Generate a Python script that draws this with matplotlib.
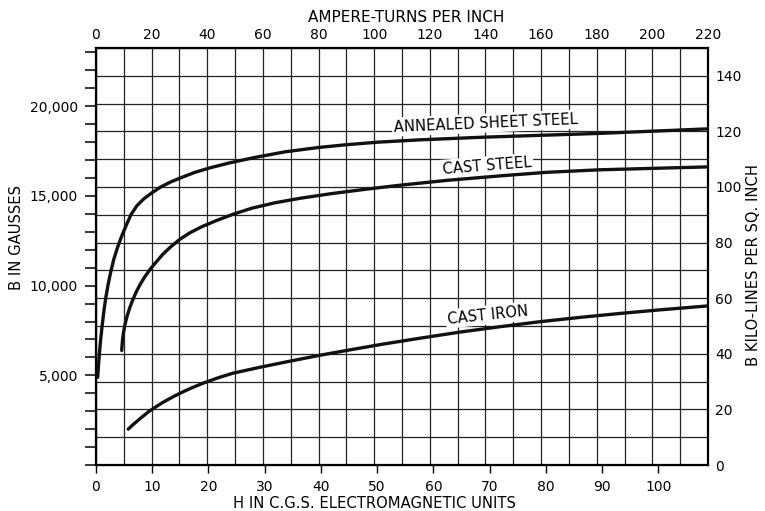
import matplotlib
matplotlib.use("Agg")
import matplotlib.pyplot as plt
from matplotlib.ticker import MultipleLocator, FixedLocator, FuncFormatter

# ---- data: H in c.g.s. units (oersted), B in gausses ----
annealed_H = [0.30, 0.44, 0.62, 0.85, 1.12, 1.42, 1.78, 2.19, 2.67, 3.20, 3.82, 4.53,
              5.34, 6.22, 7.29, 8.54, 9.96, 11.56, 13.34, 15.29, 17.61, 20.28, 23.83,
              28.28, 33.61, 39.48, 44.27, 50.14, 57.62, 68.29, 78.96, 89.63, 100.3, 108.7]
annealed_B = [4890, 5560, 6280, 7060, 7840, 8620, 9400, 10120, 10840, 11510, 12120, 12730,
              13340, 13960, 14460, 14850, 15180, 15510, 15790, 16040, 16320, 16570, 16850,
              17150, 17460, 17700, 17850, 18000, 18130, 18270, 18380, 18490, 18630, 18740]

caststeel_H = [4.57, 4.71, 4.89, 5.16, 5.51, 5.96, 6.49, 7.11, 7.83, 8.71, 9.60, 10.67,
               11.92, 13.34, 14.94, 16.72, 18.85, 21.34, 24.36, 27.74, 31.83, 36.28,
               41.62, 47.84, 54.06, 62.42, 71.85, 80.21, 89.63, 100.3, 108.7]
caststeel_B = [6390, 6950, 7390, 7840, 8280, 8730, 9170, 9620, 10060, 10510, 10900, 11310,
               11760, 12180, 12590, 12950, 13290, 13620, 13980, 14320, 14620, 14870,
               15120, 15370, 15600, 15870, 16120, 16320, 16460, 16550, 16620]

castiron_H = [5.74, 6.58, 7.52, 8.36, 9.30, 10.49, 11.68, 12.80, 14.05, 15.47, 17.02,
              19.03, 21.70, 24.37, 29.17, 34.50, 39.84, 45.17, 51.04, 57.62, 64.73,
              71.85, 78.96, 86.07, 93.19, 100.3, 108.8]
castiron_B = [2000, 2250, 2500, 2720, 2960, 3210, 3450, 3650, 3860, 4080, 4300,
              4560, 4860, 5120, 5450, 5790, 6120, 6420, 6740, 7070, 7410,
              7710, 7990, 8230, 8450, 8650, 8870]

curve_names = ["ANNEALED SHEET STEEL", "CAST STEEL", "CAST IRON"]

bottom_ticks = list(range(0, 101, 10))          # H, c.g.s. units
left_major = [5000, 10000, 15000, 20000]         # gausses

AT_PER_H = 2.0213      # ampere-turns per inch for one c.g.s. unit of H
GAUSS_PER_KL = 155.0   # gausses per kilo-line per square inch

plt.rcParams['font.family'] = ['DejaVu Sans']
W, H = 765, 511

fig = plt.figure(figsize=(7.65, 5.11), dpi=100)
ax = fig.add_axes([96 / W, 1 - 465 / H, (708 - 96) / W, (465 - 48) / H])

ax.set_xlim(0, 220)
ax.set_ylim(0, 150)

# top axis: ampere-turns per inch
ax.xaxis.tick_top()
ax.xaxis.set_major_locator(MultipleLocator(20))
ax.xaxis.set_minor_locator(MultipleLocator(10))
ax.tick_params(axis='x', which='both', length=0, pad=4, labelsize=10)

# right axis: kilo-lines per sq. inch
ax.yaxis.tick_right()
ax.yaxis.set_minor_locator(MultipleLocator(10))
ax.set_yticks(range(0, 141, 20))
ax.tick_params(axis='y', which='both', length=0, pad=5, labelsize=10)

ax.grid(which='both', color='#222222', lw=0.9)
ax.set_axisbelow(True)
for s in ax.spines.values():
    s.set_linewidth(1.6)

# bottom axis: H in c.g.s. units
secx = ax.secondary_xaxis('bottom', functions=(lambda a: a / AT_PER_H, lambda h: h * AT_PER_H))
secx.set_xticks(bottom_ticks)
secx.tick_params(length=6, width=1.0, pad=5, labelsize=10)

# left axis: B in gausses
secy = ax.secondary_yaxis('left', functions=(lambda k: k * GAUSS_PER_KL, lambda g: g / GAUSS_PER_KL))
secy.yaxis.set_major_locator(FixedLocator(left_major))
secy.yaxis.set_minor_locator(MultipleLocator(1000))
secy.yaxis.set_major_formatter(FuncFormatter(lambda v, p: f"{int(v):,}"))
secy.tick_params(which='both', length=8, width=1.1, pad=5, labelsize=10)

# axis titles
fig.text(406 / W, 1 - 17 / H, "AMPERE-TURNS PER INCH", fontsize=11, ha='center', va='center')
fig.text(374 / W, 1 - 503 / H, "H IN C.G.S. ELECTROMAGNETIC UNITS", fontsize=10.6,
         ha='center', va='center')
fig.text(17 / W, 1 - 238 / H, "B IN GAUSSES", fontsize=10.6, rotation=90,
         ha='center', va='center')
fig.text(754 / W, 1 - 265 / H, "B KILO-LINES PER SQ. INCH", fontsize=10.6, rotation=90,
         ha='center', va='center')

# curves
series = [(annealed_H, annealed_B), (caststeel_H, caststeel_B), (castiron_H, castiron_B)]
for hs, bs in series:
    ax.plot([h * AT_PER_H for h in hs], [b / GAUSS_PER_KL for b in bs],
            color='#111111', lw=2.4, solid_capstyle='round', solid_joinstyle='round',
            zorder=4)

label_pos = [(140.2, 123.0, 2.5), (140.5, 107.6, 4.5), (141.0, 54.0, 6.0)]
for name, (x, y, rot) in zip(curve_names, label_pos):
    ax.text(x, y, name, fontsize=10.6, ha='center', va='center', rotation=rot,
            rotation_mode='anchor', zorder=3,
            bbox=dict(facecolor='white', edgecolor='none', pad=1.5))

fig.savefig("out.png", dpi=100)
